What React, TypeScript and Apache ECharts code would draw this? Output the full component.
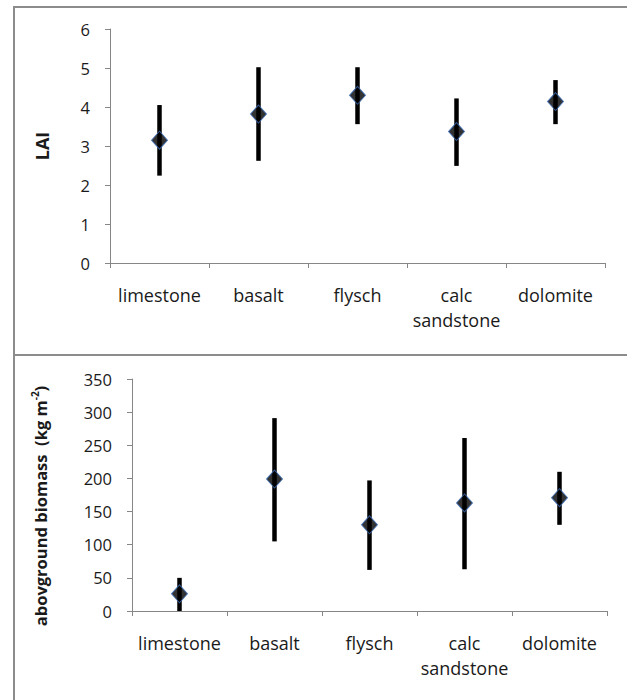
import React, { useEffect, useRef } from "react";
import * as echarts from "echarts";

const categories = ["limestone", "basalt", "flysch", "calc\nsandstone", "dolomite"];
const laiMean = [3.15, 3.82, 4.3, 3.37, 4.14];
const laiLow = [2.24, 2.62, 3.56, 2.49, 3.56];
const laiHigh = [4.05, 5.02, 5.02, 4.22, 4.69];
const bioMean = [26, 199, 130, 163, 171];
const bioLow = [0, 105, 62, 63, 130];
const bioHigh = [50, 291, 197, 261, 210];

const FONT = "Open Sans";
const AXIS_COLOR = "#868686";
const TEXT_COLOR = "#1a1a1a";

function errorSeries(gridIdx: number, low: number[], high: number[]) {
  return {
    type: "custom",
    xAxisIndex: gridIdx,
    yAxisIndex: gridIdx,
    encode: { x: 0, y: [1, 2] },
    data: categories.map((_, i) => [i, low[i], high[i]]),
    renderItem: (params: any, api: any) => {
      const x = api.value(0);
      const lo = api.coord([x, api.value(1)]);
      const hi = api.coord([x, api.value(2)]);
      return {
        type: "line",
        shape: { x1: lo[0], y1: lo[1], x2: hi[0], y2: hi[1] },
        style: { stroke: "#000", lineWidth: 4.5 },
      };
    },
    z: 2,
  };
}

function meanSeries(gridIdx: number, mean: number[]) {
  return {
    type: "scatter",
    xAxisIndex: gridIdx,
    yAxisIndex: gridIdx,
    data: mean,
    symbol: "diamond",
    symbolSize: [16, 18],
    itemStyle: { color: "#000", borderColor: "#3b6cb7", borderWidth: 1 },
    z: 3,
  };
}

function xAxis(gridIdx: number) {
  return {
    type: "category",
    gridIndex: gridIdx,
    data: categories,
    boundaryGap: true,
    axisLine: { lineStyle: { color: AXIS_COLOR, width: 1 } },
    axisTick: { show: true, length: 5, lineStyle: { color: AXIS_COLOR } },
    axisLabel: {
      color: TEXT_COLOR,
      fontFamily: FONT,
      fontSize: 18,
      lineHeight: 25,
      margin: 19,
      interval: 0,
    },
  };
}

export default function App() {
  const ref = useRef<HTMLDivElement>(null);
  useEffect(() => {
    if (!ref.current) return;
    const chart = echarts.init(ref.current, undefined, { renderer: "svg" });
    chart.setOption({
      animation: false,
      backgroundColor: "#fff",
      textStyle: { fontFamily: FONT },
      grid: [
        { left: 110, top: 29, width: 495, height: 234 },
        { left: 132, top: 379, width: 475, height: 232 },
      ],
      xAxis: [xAxis(0), xAxis(1)],
      yAxis: [
        {
          type: "value",
          gridIndex: 0,
          min: 0,
          max: 6,
          interval: 1,
          splitLine: { show: false },
          axisLine: { show: true, lineStyle: { color: AXIS_COLOR } },
          axisTick: { show: true, length: 5, lineStyle: { color: AXIS_COLOR } },
          axisLabel: { color: TEXT_COLOR, fontFamily: FONT, fontSize: 16.5, margin: 20 },
          name: "LAI",
          nameLocation: "middle",
          nameRotate: 90,
          nameGap: 59,
          nameTextStyle: { color: TEXT_COLOR, fontFamily: FONT, fontWeight: "bold", fontSize: 18 },
        },
        {
          type: "value",
          gridIndex: 1,
          min: 0,
          max: 350,
          interval: 50,
          splitLine: { show: false },
          axisLine: { show: true, lineStyle: { color: AXIS_COLOR } },
          axisTick: { show: true, length: 5, lineStyle: { color: AXIS_COLOR } },
          axisLabel: { color: TEXT_COLOR, fontFamily: FONT, fontSize: 16.5, margin: 20 },
          name: "abovground biomass  (kg m{sup|-2})",
          nameLocation: "middle",
          nameRotate: 90,
          nameGap: 82,
          nameTextStyle: {
            color: TEXT_COLOR,
            fontFamily: FONT,
            fontWeight: "bold",
            fontSize: 16.5,
            lineHeight: 20,
            padding: [0, 22, 0, 0],
            rich: {
              sup: {
                color: TEXT_COLOR,
                fontFamily: FONT,
                fontWeight: "bold",
                fontSize: 10,
                lineHeight: 20,
                verticalAlign: "top",
              },
            },
          },
        },
      ],
      graphic: [
        { type: "line", shape: { x1: 14, y1: 7, x2: 627, y2: 7 }, style: { stroke: "#8c8c8c", lineWidth: 2 } },
        { type: "line", shape: { x1: 14, y1: 6, x2: 14, y2: 700 }, style: { stroke: "#8c8c8c", lineWidth: 2 } },
        { type: "line", shape: { x1: 14, y1: 355, x2: 627, y2: 355 }, style: { stroke: "#8c8c8c", lineWidth: 2 } },
      ],
      series: [
        errorSeries(0, laiLow, laiHigh),
        meanSeries(0, laiMean),
        errorSeries(1, bioLow, bioHigh),
        meanSeries(1, bioMean),
      ],
    });
    return () => chart.dispose();
  }, []);
  return (
    <div
      ref={ref}
      style={{ position: "absolute", left: 0, top: 0, width: 627, height: 700 }}
    />
  );
}
